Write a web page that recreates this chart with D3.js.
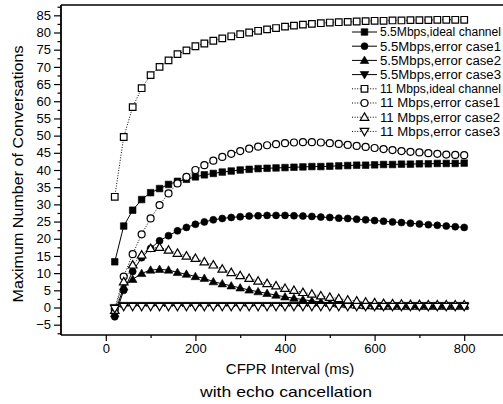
<!DOCTYPE html>
<html>
<head>
<meta charset="utf-8">
<script src="https://cdn.jsdelivr.net/npm/d3@7"></script>
<style>
  html, body { margin: 0; padding: 0; background: #fff; }
  svg { display: block; font-family: "Liberation Sans", Arial, sans-serif; }
</style>
</head>
<body>
<svg id="chart" width="503" height="404"></svg>
<script>
// ---- data ----
const intervals = [20,40,60,80,100,120,140,160,180,200,220,240,260,280,300,320,340,360,380,400,
                   420,440,460,480,500,520,540,560,580,600,620,640,660,680,700,720,740,760,780,800];

const mbps55Ideal = [13.3,23.7,28.3,31.4,33.4,34.6,35.8,36.7,37.3,38.0,38.6,39.0,39.4,39.7,40.0,40.2,40.4,40.5,40.6,40.7,
                     40.8,40.9,41.0,41.0,41.1,41.2,41.3,41.4,41.4,41.5,41.6,41.6,41.7,41.7,41.8,41.8,41.9,41.9,41.9,42.0];
const mbps55Case1 = [-2.7,5.0,10.5,14.5,17.2,19.4,20.9,22.3,23.3,24.2,24.9,25.5,25.9,26.2,26.4,26.6,26.7,26.8,26.8,26.8,
                     26.7,26.6,26.5,26.3,26.2,26.0,25.9,25.7,25.5,25.3,25.1,24.9,24.7,24.5,24.3,24.1,23.9,23.7,23.5,23.3];
const mbps55Case2 = [-1.8,6.0,8.2,9.9,10.9,11.1,10.9,10.2,9.7,9.0,8.5,7.5,6.9,6.3,5.7,5.1,4.6,4.1,3.6,3.1,
                     2.7,2.3,1.9,1.6,1.3,1.0,0.8,0.6,0.5,0.4,0.3,0.3,0.3,0.3,0.3,0.3,0.3,0.3,0.3,0.3];
const mbps55Case3 = [0.0,0.6,0.6,0.6,0.6,0.6,0.6,0.6,0.6,0.6,0.6,0.6,0.6,0.6,0.6,0.6,0.6,0.6,0.6,0.6,
                     0.6,0.6,0.6,0.6,0.6,0.6,0.6,0.6,0.6,0.6,0.6,0.6,0.6,0.6,0.6,0.6,0.6,0.6,0.6,0.6];
const mbps11Ideal = [32.2,49.6,58.3,63.8,67.6,70.0,71.9,73.7,74.8,76.0,76.8,77.6,78.3,78.9,79.5,80.0,80.5,80.9,81.3,81.7,
                     82.0,82.3,82.5,82.7,82.9,83.0,83.1,83.2,83.3,83.4,83.4,83.5,83.5,83.6,83.6,83.6,83.7,83.7,83.7,83.7];
const mbps11Case1 = [-0.5,9.0,15.5,21.3,25.9,29.8,33.2,36.1,38.0,40.0,41.4,42.7,43.8,44.7,45.5,46.2,46.8,47.2,47.5,47.8,
                     48.0,48.1,48.1,48.0,47.8,47.6,47.3,47.0,46.7,46.4,46.1,45.8,45.5,45.3,45.1,44.9,44.7,44.5,44.4,44.3];
const mbps11Case2 = [-0.8,7.5,12.4,15.3,17.2,17.5,16.7,15.8,15.0,14.3,13.3,12.4,11.2,10.2,9.3,8.5,7.7,7.0,6.3,5.6,
                     5.0,4.4,3.9,3.4,3.0,2.6,2.2,1.9,1.6,1.4,1.2,1.1,1.0,0.9,0.9,0.8,0.8,0.8,0.8,0.8];
const mbps11Case3 = [-0.3,0.3,0.3,0.3,0.3,0.3,0.3,0.3,0.3,0.3,0.3,0.3,0.3,0.3,0.3,0.3,0.3,0.3,0.3,0.3,
                     0.3,0.3,0.3,0.3,0.3,0.3,0.3,0.3,0.3,0.3,0.3,0.3,0.3,0.3,0.3,0.3,0.3,0.3,0.3,0.3];

const seriesNames = ["5.5Mbps,ideal channel","5.5Mbps,error case1","5.5Mbps,error case2","5.5Mbps,error case3",
                     "11 Mbps,ideal channel","11 Mbps,error case1","11 Mbps,error case2","11 Mbps,error case3"];
const seriesValues = [mbps55Ideal, mbps55Case1, mbps55Case2, mbps55Case3,
                      mbps11Ideal, mbps11Case1, mbps11Case2, mbps11Case3];
const markerShapes = ["square","circle","triangle","triangleDown","square","circle","triangle","triangleDown"];
const markerFilled = [true,true,true,true,false,false,false,false];
const lineDotted   = [false,false,false,false,true,true,true,true];

const xTicks = [0,200,400,600,800];
const xMinorTicks = [100,300,500,700];
const yTicks = [-5,0,5,10,15,20,25,30,35,40,45,50,55,60,65,70,75,80,85];
const yMinorTicks = [-7.5,-2.5,2.5,7.5,12.5,17.5,22.5,27.5,32.5,37.5,42.5,47.5,52.5,57.5,62.5,67.5,72.5,77.5,82.5,87.5];

const xTitle1 = "CFPR Interval (ms)";
const xTitle2 = "with echo cancellation";
const yTitle = "Maximum Number of Conversations";

// ---- drawing ----
(function () {
const svg = d3.select("#chart");
const pLeft = 61, pRight = 509, pTop = 5, pBottom = 335;
const x = d3.scaleLinear().domain([-100, 900]).range([pLeft, pRight]);
const y = d3.scaleLinear().domain([-8, 88]).range([pBottom, pTop]);

function markerPath(shape) {
  const p = d3.path();
  if (shape === "square") {
    const s = 3.3; p.rect(-s, -s, 2*s, 2*s);
  } else if (shape === "circle") {
    p.arc(0, 0, 3.5, 0, 2*Math.PI);
  } else if (shape === "triangle") {
    p.moveTo(0, -4.3); p.lineTo(4.3, 3.1); p.lineTo(-4.3, 3.1); p.closePath();
  } else {
    p.moveTo(0, 4.3); p.lineTo(4.3, -3.1); p.lineTo(-4.3, -3.1); p.closePath();
  }
  return p.toString();
}

// axes
svg.append("g").attr("transform", `translate(0,${pBottom})`)
  .call(d3.axisBottom(x).tickValues(xTicks).tickSize(6).tickPadding(3).tickFormat(d3.format("d")));
svg.append("g").attr("transform", `translate(0,${pBottom})`)
  .call(d3.axisBottom(x).tickValues(xMinorTicks).tickSize(3).tickFormat(""));
svg.append("g").attr("transform", `translate(${pLeft},0)`)
  .call(d3.axisLeft(y).tickValues(yTicks).tickSize(7).tickPadding(3).tickFormat(d3.format("d")));
svg.append("g").attr("transform", `translate(${pLeft},0)`)
  .call(d3.axisLeft(y).tickValues(yMinorTicks.filter(v => v <= 88)).tickSize(3.5).tickFormat(""));

svg.selectAll(".domain").remove();
svg.selectAll(".tick line").attr("stroke", "#000").attr("stroke-width", 1.2);
svg.selectAll(".tick text").attr("font-family", "Liberation Sans, Arial, sans-serif")
  .attr("font-size", 13).attr("fill", "#000");

// frame lines (left, bottom, top)
svg.append("line").attr("x1", pLeft).attr("x2", pLeft).attr("y1", pTop).attr("y2", pBottom)
  .attr("stroke", "#000").attr("stroke-width", 1.8);
svg.append("line").attr("x1", pLeft).attr("x2", 503).attr("y1", pBottom).attr("y2", pBottom)
  .attr("stroke", "#000").attr("stroke-width", 1.6);
svg.append("line").attr("x1", pLeft).attr("x2", 503).attr("y1", pTop).attr("y2", pTop)
  .attr("stroke", "#000").attr("stroke-width", 1.6);

// series
const line = d3.line().x((d, i) => x(intervals[i])).y(d => y(d));
seriesValues.forEach((vals, s) => {
  svg.append("path").datum(vals).attr("d", line)
    .attr("fill", "none").attr("stroke", "#000")
    .attr("stroke-width", 1)
    .attr("stroke-dasharray", lineDotted[s] ? "1,1.6" : null);
  svg.append("g").selectAll("path").data(vals).join("path")
    .attr("d", markerPath(markerShapes[s]))
    .attr("transform", (d, i) => `translate(${x(intervals[i])},${y(d)})`)
    .attr("fill", markerFilled[s] ? "#000" : "#fff")
    .attr("stroke", "#000").attr("stroke-width", markerFilled[s] ? 0.6 : 1.2);
});

// legend
const lg = svg.append("g");
seriesNames.forEach((name, s) => {
  const ly = 32 + s * 14.2;
  lg.append("line").attr("x1", 352).attr("x2", 377).attr("y1", ly).attr("y2", ly)
    .attr("stroke", "#000").attr("stroke-width", 1)
    .attr("stroke-dasharray", lineDotted[s] ? "1,1.6" : null);
  lg.append("path").attr("d", markerPath(markerShapes[s]))
    .attr("transform", `translate(364.5,${ly})`)
    .attr("fill", markerFilled[s] ? "#000" : "#fff")
    .attr("stroke", "#000").attr("stroke-width", markerFilled[s] ? 0.6 : 1.2);
  const t = lg.append("text").attr("x", 380).attr("y", ly + 4.3).attr("font-size", 12)
    .attr("fill", "#000").text(name);
  const w = t.node().getComputedTextLength();
  t.attr("textLength", Math.min(w * 1.1, 121)).attr("lengthAdjust", "spacingAndGlyphs");
});

// titles
svg.append("text").attr("x", 290).attr("y", 374).attr("text-anchor", "middle")
  .attr("font-size", 15).attr("fill", "#000").text(xTitle1);
svg.append("text").attr("x", 286).attr("y", 397).attr("text-anchor", "middle")
  .attr("font-size", 15).attr("textLength", 172).attr("lengthAdjust", "spacingAndGlyphs")
  .attr("fill", "#000").text(xTitle2);
svg.append("text").attr("transform", "translate(23,174) rotate(-90)").attr("text-anchor", "middle")
  .attr("font-size", 15).attr("textLength", 257).attr("lengthAdjust", "spacingAndGlyphs")
  .attr("fill", "#000").text(yTitle);
})();
</script>
</body>
</html>
